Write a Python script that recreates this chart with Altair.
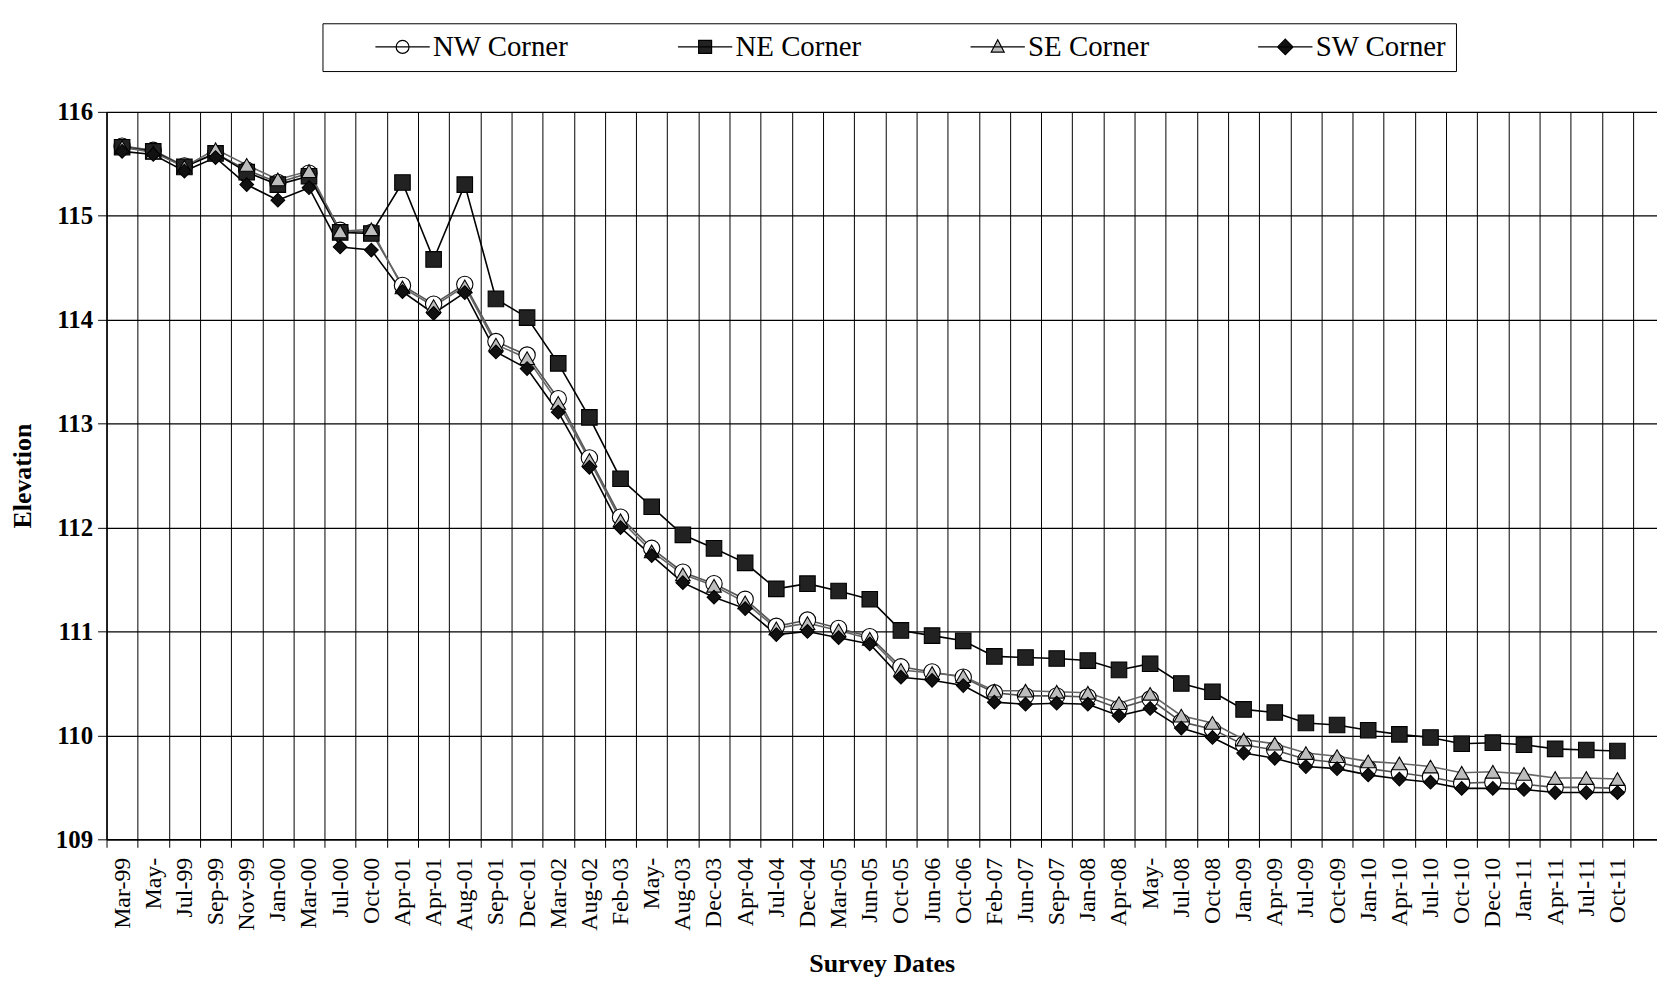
import json
import altair as alt
import pandas as pd

dates = ["Mar-99", "May-", "Jul-99", "Sep-99", "Nov-99", "Jan-00", "Mar-00", "Jul-00",
         "Oct-00", "Apr-01", "Apr-01", "Aug-01", "Sep-01", "Dec-01", "Mar-02", "Aug-02",
         "Feb-03", "May-", "Aug-03", "Dec-03", "Apr-04", "Jul-04", "Dec-04", "Mar-05",
         "Jun-05", "Oct-05", "Jun-06", "Oct-06", "Feb-07", "Jun-07", "Sep-07", "Jan-08",
         "Apr-08", "May-", "Jul-08", "Oct-08", "Jan-09", "Apr-09", "Jul-09", "Oct-09",
         "Jan-10", "Apr-10", "Jul-10", "Oct-10", "Dec-10", "Jan-11", "Apr-11", "Jul-11",
         "Oct-11"]

series = ["NW Corner", "NE Corner", "SE Corner", "SW Corner"]

nw = [115.67, 115.63, 115.48, 115.60, 115.44, 115.32, 115.41, 114.86, 114.84, 114.33,
      114.15, 114.34, 113.79, 113.66, 113.24, 112.67, 112.10, 111.80, 111.57, 111.46,
      111.31, 111.05, 111.11, 111.03, 110.95, 110.66, 110.61, 110.56, 110.41, 110.38,
      110.38, 110.37, 110.26, 110.35, 110.13, 110.06, 109.91, 109.86, 109.77, 109.74,
      109.68, 109.64, 109.60, 109.54, 109.55, 109.53, 109.50, 109.50, 109.49]
ne = [115.66, 115.62, 115.47, 115.60, 115.42, 115.30, 115.38, 114.84, 114.83, 115.32,
      114.58, 115.30, 114.20, 114.02, 113.58, 113.06, 112.47, 112.20, 111.93, 111.80,
      111.66, 111.41, 111.46, 111.39, 111.31, 111.01, 110.96, 110.91, 110.76, 110.75,
      110.74, 110.72, 110.63, 110.69, 110.50, 110.42, 110.25, 110.22, 110.12, 110.10,
      110.05, 110.01, 109.98, 109.92, 109.93, 109.91, 109.87, 109.86, 109.85]
se = [115.66, 115.61, 115.47, 115.64, 115.49, 115.35, 115.43, 114.85, 114.87, 114.31,
      114.13, 114.32, 113.76, 113.63, 113.20, 112.65, 112.07, 111.77, 111.55, 111.44,
      111.28, 111.03, 111.08, 111.01, 110.93, 110.63, 110.60, 110.57, 110.43, 110.43,
      110.42, 110.41, 110.31, 110.40, 110.19, 110.12, 109.96, 109.92, 109.83, 109.80,
      109.75, 109.73, 109.70, 109.64, 109.65, 109.63, 109.59, 109.59, 109.58]
sw = [115.62, 115.59, 115.43, 115.56, 115.30, 115.15, 115.27, 114.70, 114.67, 114.27,
      114.06, 114.26, 113.69, 113.53, 113.11, 112.58, 112.00, 111.73, 111.47, 111.33,
      111.22, 110.97, 111.00, 110.94, 110.88, 110.56, 110.53, 110.48, 110.32, 110.30,
      110.31, 110.30, 110.19, 110.26, 110.07, 109.98, 109.83, 109.78, 109.70, 109.68,
      109.62, 109.58, 109.55, 109.49, 109.49, 109.48, 109.45, 109.45, 109.45]

y_ticks = [109, 110, 111, 112, 113, 114, 115, 116]

rows = []
for name, vals in zip(series, [nw, ne, se, sw]):
    for i, v in enumerate(vals):
        rows.append({"series": name, "idx": i, "value": v, "date": dates[i]})
df = pd.DataFrame(rows)

FONT = "Liberation Serif"
W, H = 1558, 731
x_max = 49.27
step = W / (x_max + 0.5)

label_expr = json.dumps(dates) + "[round(datum.value + 0.5)] || ''"

x_enc = alt.X(
    "idx:Q",
    scale=alt.Scale(domain=[-0.5, x_max], nice=False, zero=False),
    axis=alt.Axis(
        values=[i - 0.5 for i in range(len(dates) + 1)],
        labelExpr=label_expr,
        labelAngle=270,
        labelOffset=step / 2,
        labelOverlap=False,
        labelFlush=False,
        labelFontSize=24,
        labelPadding=10,
        labelColor="black",
        tickSize=8,
        tickColor="black",
        grid=True,
        gridColor="black",
        gridWidth=1,
        domainColor="black",
        domainWidth=1.5,
        title="Survey Dates",
        titleFontSize=26,
        titleFontWeight="bold",
        titleColor="black",
        titlePadding=20,
    ),
)
y_enc = alt.Y(
    "value:Q",
    scale=alt.Scale(domain=[109, 116], nice=False, zero=False),
    axis=alt.Axis(
        values=y_ticks,
        format="d",
        labelFontSize=25,
        labelFontWeight="bold",
        labelColor="black",
        labelPadding=5,
        tickSize=9,
        tickColor="black",
        grid=True,
        gridColor="black",
        gridWidth=1.3,
        domainColor="black",
        domainWidth=1.5,
        title="Elevation",
        titleFontSize=26,
        titleFontWeight="bold",
        titleColor="black",
        titlePadding=20,
    ),
)

line_colors = ["#555555", "#000000", "#666666", "#000000"]
fills = ["#ffffff", "#222222", "#bdbdbd", "#111111"]
shapes = ["circle", "square", "triangle-up", "diamond"]
sizes = [270, 190, 340, 430]
legend_paths = [
    "M-4.2,0H4.2M1,0A1,1,0,1,1,-1,0A1,1,0,1,1,1,0Z",
    "M-4.2,0H4.2M-1,-1H1V1H-1Z",
    "M-4.2,0H4.2M0,-1.1L1,0.8H-1Z",
    "M-4.2,0H4.2M0,-1.2L1.2,0L0,1.2L-1.2,0Z",
]

lines = alt.Chart(df).mark_line(strokeWidth=1.6).encode(
    x=x_enc,
    y=y_enc,
    stroke=alt.Stroke("series:N", scale=alt.Scale(domain=series, range=line_colors), legend=None),
)

points = alt.Chart(df).mark_point(filled=True, stroke="black", strokeWidth=1.1, opacity=1).encode(
    x=x_enc,
    y=y_enc,
    color=alt.Color("series:N", scale=alt.Scale(domain=series, range=fills), legend=None),
    shape=alt.Shape("series:N", scale=alt.Scale(domain=series, range=shapes), legend=None),
    size=alt.Size("series:N", scale=alt.Scale(domain=series, range=sizes), legend=None),
)

leg = alt.Legend(
    orient="none",
    legendX=217,
    legendY=-89,
    direction="horizontal",
    columns=4,
    gridAlign="each",
    title=" ",
    titleOrient="left",
    titleFontSize=10,
    titlePadding=37,
    padding=9,
    strokeColor="black",
    fillColor="white",
    labelFont=FONT,
    labelFontSize=29,
    labelColor="black",
    symbolSize=169,
    symbolStrokeWidth=1.2,
    symbolStrokeColor="black",
    symbolOffset=20,
    labelOffset=16,
    columnPadding=102,
)

legend_layer = alt.Chart(df).transform_filter("false").mark_point(
    filled=True, stroke="black", strokeWidth=1.2, opacity=1
).encode(
    color=alt.Color("series:N", scale=alt.Scale(domain=series, range=fills), legend=leg),
    shape=alt.Shape("series:N", scale=alt.Scale(domain=series, range=legend_paths), legend=leg),
)

chart = (
    alt.layer(lines, points, legend_layer)
    .resolve_scale(color="independent", shape="independent")
    .properties(
        width=W,
        height=H,
        autosize=alt.AutoSizeParams(type="none"),
        padding={"left": 99, "top": 102, "right": 0, "bottom": 138},
    )
    .configure(font=FONT)
    .configure_view(strokeWidth=0)
)

chart.save("out.html", embed_options={"renderer": "svg", "actions": False})
